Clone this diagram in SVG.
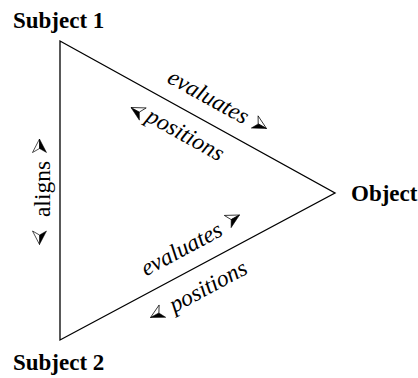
<svg xmlns="http://www.w3.org/2000/svg" xmlns:xlink="http://www.w3.org/1999/xlink" width="418" height="378" viewBox="0 0 418 378">
<style>
.node{font-family:"Liberation Serif","Times New Roman",serif;font-weight:bold;font-size:23px;fill:#000}
.lbl{font-family:"Liberation Serif","Times New Roman",serif;font-size:23.5px;fill:#000}
.it{font-style:italic}
.edge{stroke:#000;stroke-width:1.3;fill:none;stroke-linejoin:miter}
.blk{fill:#000;stroke:#000;stroke-width:0.5;stroke-linejoin:round}
.wht{fill:#fff;stroke:#000;stroke-width:0.7;stroke-linejoin:round}
</style>
<defs>
<g id="ahA"><polygon class="blk" points="0,0 -13.5,-7 -9.5,0"/><polygon class="wht" points="0,0 -9.5,0 -13.5,7"/></g>
<g id="ahB"><polygon class="wht" points="0,0 -13.5,-7 -9.5,0"/><polygon class="blk" points="0,0 -9.5,0 -13.5,7"/></g>
</defs>
<g id="connectors">
<polygon class="edge" points="60,41 335,193 60,340"/>
<g id="rel-s1-obj">
<text class="lbl it" transform="translate(166,81.8) rotate(28.93)">evaluates</text>
<use xlink:href="#ahB" transform="translate(266.5,128.5) rotate(29)"/>
<text class="lbl it" transform="translate(144.6,120.5) rotate(28.93)">positions</text>
<use xlink:href="#ahA" transform="translate(131,107.5) rotate(209)"/>
</g>
<g id="rel-s2-obj">
<text class="lbl it" transform="translate(145.9,276.5) rotate(-28.13)">evaluates</text>
<use xlink:href="#ahB" transform="translate(239.5,215) rotate(-29)"/>
<text class="lbl it" transform="translate(174.2,313) rotate(-28.13)">positions</text>
<use xlink:href="#ahA" transform="translate(150.5,317.5) rotate(152)"/>
</g>
<g id="rel-s1-s2">
<text class="lbl" text-anchor="middle" transform="translate(49.5,189) rotate(-90)">aligns</text>
<use xlink:href="#ahB" transform="translate(39.5,139) rotate(-90)"/>
<use xlink:href="#ahA" transform="translate(39.5,244.5) rotate(90)"/>
</g>
</g>
<g id="subject1"><text class="node" x="13" y="28">Subject 1</text></g>
<g id="subject2"><text class="node" x="13" y="370">Subject 2</text></g>
<g id="object"><text class="node" x="351" y="201">Object</text></g>
</svg>
